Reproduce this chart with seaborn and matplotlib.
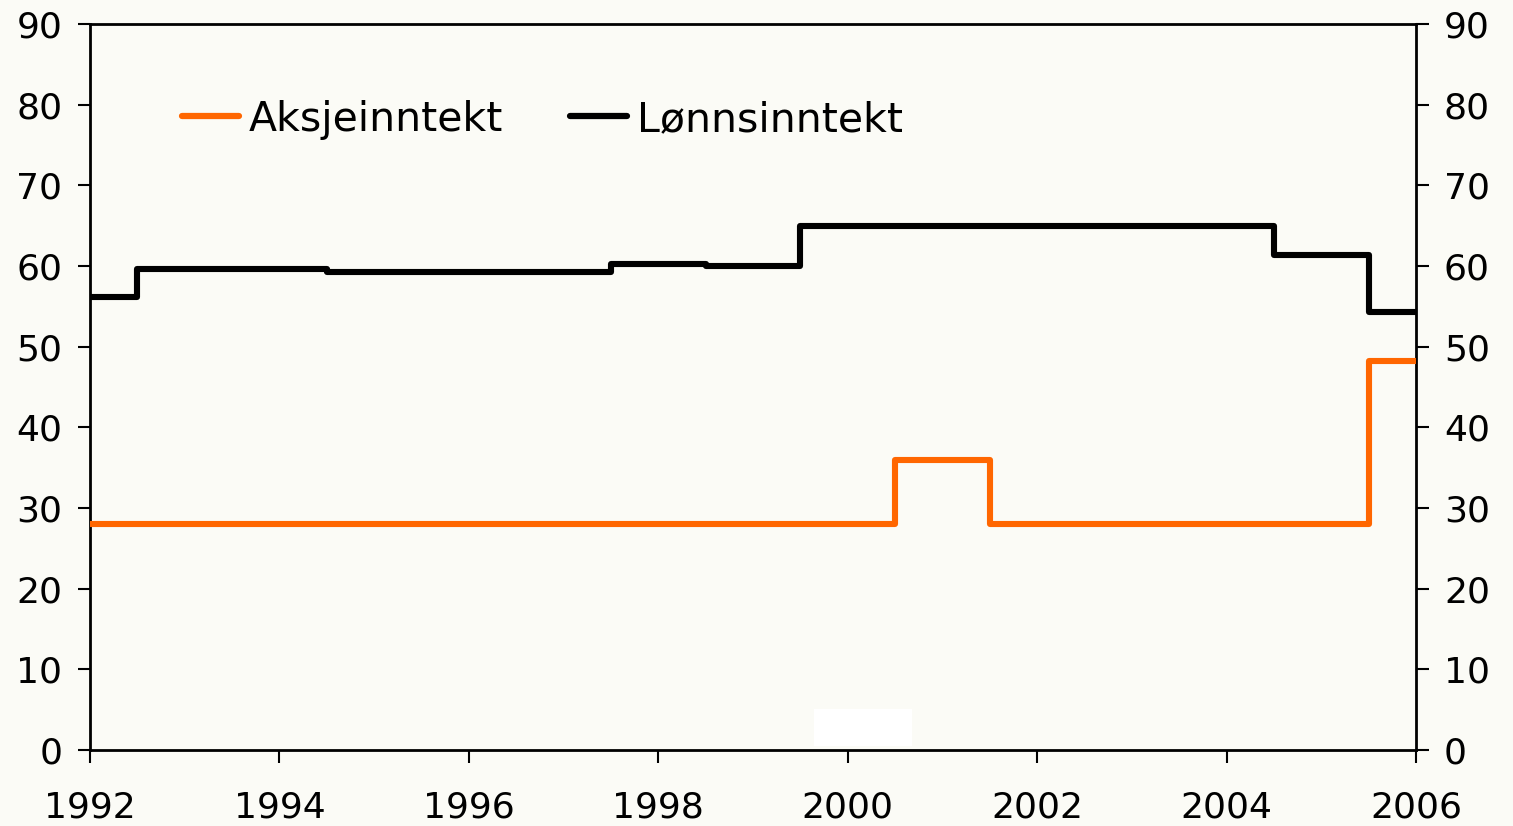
import matplotlib
matplotlib.use('Agg')
import matplotlib.pyplot as plt
import seaborn as sns
import pandas as pd

# data (yearly values, drawn as centred steps)
years = list(range(1992, 2007))
aksje = [28, 28, 28, 28, 28, 28, 28, 28, 28, 36, 28, 28, 28, 28, 48.2]
lonn = [56.1, 59.6, 59.6, 59.2, 59.2, 59.2, 60.2, 60.0, 64.9, 64.9, 64.9, 64.9, 64.9, 61.4, 54.3]
series_names = ['Aksjeinntekt', 'Lønnsinntekt']
y_ticks = list(range(0, 91, 10))
x_ticks = list(range(1992, 2007, 2))

df = pd.DataFrame({
    'year': years * 2,
    'value': aksje + lonn,
    'serie': [series_names[0]] * len(years) + [series_names[1]] * len(years),
})

sns.set_theme(style='ticks')
plt.rcParams['font.family'] = ['DejaVu Sans']
bg = '#FBFBF6'

fig = plt.figure(figsize=(15.13, 8.26), dpi=100, facecolor=bg)
ax = fig.add_axes([0.0595, 0.092, 0.8765, 0.879])
ax.set_facecolor(bg)

# blank white box above the x axis near 2000 (as in the original)
ax.add_patch(plt.Rectangle((0.546, 0.006), 0.074, 0.051, transform=ax.transAxes,
                           facecolor='white', edgecolor='none', zorder=1))

sns.lineplot(data=df, x='year', y='value', hue='serie',
             palette={'Aksjeinntekt': '#FF6600', 'Lønnsinntekt': '#000000'},
             drawstyle='steps-mid', linewidth=4.4, ax=ax, zorder=3)

ax.set_xlim(1992, 2006)
ax.set_ylim(0, 90)
ax.set_xticks(x_ticks)
ax.set_yticks(y_ticks)
ax.set_xlabel('')
ax.set_ylabel('')

for s in ax.spines.values():
    s.set_visible(True)
    s.set_color('black')
    s.set_linewidth(2)

ax.tick_params(axis='y', which='both', left=True, right=True, labelleft=True, labelright=True,
               direction='out', length=9, width=1.5, pad=11, labelsize=26, colors='black')
ax.tick_params(axis='x', direction='out', length=9, width=1.5, pad=20, labelsize=26, colors='black')

leg = ax.legend(loc='center left', bbox_to_anchor=(0.069, 0.868), ncol=2, frameon=False,
                fontsize=29.5, handlelength=1.4, handletextpad=0.25, columnspacing=1.62,
                borderpad=0, borderaxespad=0)
for line in leg.get_lines():
    line.set_linewidth(4.5)
for t in leg.get_texts():
    t.set_color('black')

fig.savefig('out.png', dpi=100, facecolor=bg)
